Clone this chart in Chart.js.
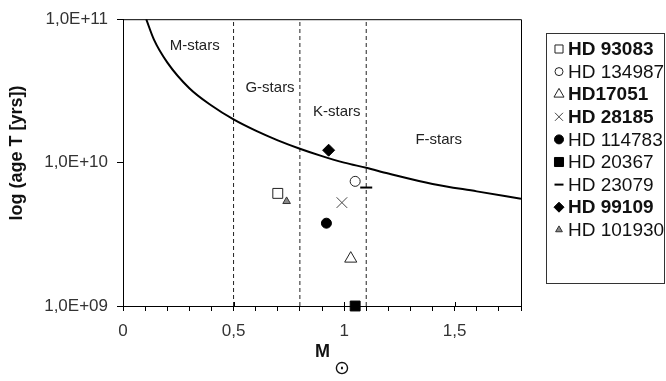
<!DOCTYPE html>
<html>
<head>
<meta charset="utf-8">
<script src="https://cdn.jsdelivr.net/npm/chart.js"></script>
<style>
  body { margin: 0; background: #fff; }
  #chart { display: block; }
</style>
</head>
<body>
<canvas id="chart" width="666" height="381"></canvas>
<script>
// Stars: mass (solar masses) vs age (years)
const starNames = ["HD 93083", "HD 134987", "HD17051", "HD 28185", "HD 114783", "HD 20367", "HD 23079", "HD 99109", "HD 101930"];
const starMass = [0.70, 1.05, 1.03, 0.99, 0.92, 1.05, 1.10, 0.93, 0.74];
const starAge = [6.1e9, 7.4e9, 2.14e9, 5.26e9, 3.78e9, 1.0e9, 6.7e9, 1.22e10, 5.37e9];

// Main sequence lifetime curve
const curveMass = [0.105, 0.14, 0.2, 0.3, 0.4, 0.5, 0.6, 0.7, 0.8, 0.9, 1.0, 1.1, 1.2, 1.4, 1.6, 1.8];
const curveAge = [1.0e11, 7.2e10, 5.0e10, 3.3e10, 2.5e10, 2.0e10, 1.67e10, 1.43e10, 1.25e10, 1.11e10, 1.0e10, 9.2e9, 8.4e9, 7.1e9, 6.3e9, 5.6e9];

// Spectral class borders and labels
const dividerMass = [0.5, 0.8, 1.1];
const regionNames = ["M-stars", "G-stars", "K-stars", "F-stars"];
const regionMass = [0.324, 0.665, 0.967, 1.428];
const regionAge = [6.5e10, 3.3e10, 2.27e10, 1.43e10];

const yTickValues = [1e9, 1e10, 1e11];

// marker look per star (same order as starNames)
const starStyles = [
  { pointStyle: "rect", radius: 7, fill: "#fff", stroke: "#222", width: 1, legendRadius: 5.7, bold: true },
  { pointStyle: "circle", radius: 5, fill: "#fff", stroke: "#222", width: 1, legendRadius: 4, bold: false },
  { pointStyle: "triangle", radius: 7, fill: "#fff", stroke: "#222", width: 1, legendRadius: 5.8, bold: true },
  { pointStyle: "crossRot", radius: 7.5, fill: "#444", stroke: "#444", width: 1, legendRadius: 5.7, bold: true },
  { pointStyle: "circle", radius: 5, fill: "#000", stroke: "#000", width: 1, legendRadius: 4.5, bold: false },
  { pointStyle: "rect", radius: 7, fill: "#000", stroke: "#000", width: 1, legendRadius: 6.4, bold: false },
  { pointStyle: "line", radius: 6, fill: "#000", stroke: "#000", width: 2, legendRadius: 4.5, bold: false },
  { pointStyle: "rectRot", radius: 6, fill: "#000", stroke: "#000", width: 1, legendRadius: 5, bold: true },
  { pointStyle: "triangle", radius: 4.4, fill: "#888", stroke: "#333", width: 1, legendRadius: 3.9, bold: false },
];

const FONT = "'Liberation Sans', Arial, sans-serif";

const starDatasets = starNames.map((name, i) => ({
  type: "scatter",
  label: name,
  data: [{ x: starMass[i], y: starAge[i] }],
  pointStyle: starStyles[i].pointStyle,
  pointRadius: starStyles[i].radius,
  pointBackgroundColor: starStyles[i].fill,
  pointBorderColor: starStyles[i].stroke,
  pointBorderWidth: starStyles[i].width,
  clip: false,
}));

const curveDataset = {
  type: "line",
  label: "curve",
  data: curveMass.map((m, i) => ({ x: m, y: curveAge[i] })),
  borderColor: "#000",
  borderWidth: 2,
  pointRadius: 0,
  cubicInterpolationMode: "monotone",
  fill: false,
};

const dividerDatasets = dividerMass.map((m) => ({
  type: "line",
  label: "divider",
  data: [{ x: m, y: 1e9 }, { x: m, y: 1e11 }],
  borderColor: "#222",
  borderWidth: 1,
  borderDash: [4, 3],
  pointRadius: 0,
  fill: false,
}));

// frame, region labels, axis titles, legend
const decorPlugin = {
  id: "decor",
  afterDraw(chart) {
    const ctx = chart.ctx;
    const area = chart.chartArea;
    const xs = chart.scales.x;
    const ys = chart.scales.y;
    ctx.save();

    // plot frame (top and right sides)
    ctx.strokeStyle = "#000";
    ctx.lineWidth = 1;
    ctx.beginPath();
    ctx.moveTo(area.left, area.top + 0.5);
    ctx.lineTo(area.right + 0.5, area.top + 0.5);
    ctx.lineTo(area.right + 0.5, area.bottom);
    ctx.stroke();

    // major x ticks also poke up into the plot
    ctx.beginPath();
    [0.5, 1, 1.5].forEach((v) => {
      const px = Math.round(xs.getPixelForValue(v)) + 0.5;
      ctx.moveTo(px, area.bottom - 4);
      ctx.lineTo(px, area.bottom);
    });
    ctx.stroke();

    // region labels
    ctx.fillStyle = "#222";
    ctx.font = "15px " + FONT;
    ctx.textAlign = "center";
    ctx.textBaseline = "middle";
    regionNames.forEach((name, i) => {
      ctx.fillText(name, xs.getPixelForValue(regionMass[i]), ys.getPixelForValue(regionAge[i]));
    });

    // y title
    ctx.save();
    ctx.translate(17, 153);
    ctx.rotate(-Math.PI / 2);
    ctx.font = "bold 18px " + FONT;
    ctx.fillStyle = "#111";
    ctx.fillText("log (age T [yrs])", 0, 0);
    ctx.restore();

    // x title: M with sun symbol
    ctx.fillStyle = "#111";
    ctx.font = "bold 18px " + FONT;
    ctx.textBaseline = "alphabetic";
    ctx.fillText("M", 322.5, 357);
    ctx.font = "19px 'DejaVu Sans'";
    ctx.textBaseline = "middle";
    ctx.fillText("\u2299", 342, 369);

    // legend
    ctx.strokeStyle = "#333";
    ctx.lineWidth = 1;
    ctx.strokeRect(546.5, 33.5, 118, 250);
    ctx.textAlign = "left";
    ctx.textBaseline = "middle";
    starNames.forEach((name, i) => {
      const st = starStyles[i];
      const y = 49 + 22.6 * i;
      ctx.fillStyle = st.fill;
      ctx.strokeStyle = st.stroke;
      ctx.lineWidth = st.width;
      Chart.helpers.drawPoint(ctx, { pointStyle: st.pointStyle, radius: st.legendRadius, rotation: 0, borderWidth: st.width }, 559, y);
      ctx.fillStyle = "#111";
      ctx.font = (st.bold ? "bold " : "") + "19px " + FONT;
      ctx.fillText(name, 568, y + 1);
    });

    ctx.restore();
  },
};

new Chart(document.getElementById("chart"), {
  data: { datasets: [...starDatasets, curveDataset, ...dividerDatasets] },
  options: {
    responsive: false,
    animation: false,
    devicePixelRatio: 1,
    layout: { padding: { top: 12, right: 145, left: 0, bottom: 0 } },
    plugins: { legend: { display: false }, tooltip: { enabled: false } },
    scales: {
      x: {
        type: "linear",
        min: 0,
        max: 1.8,
        afterFit: (scale) => { scale.height = 75; },
        border: { color: "#000", width: 1 },
        grid: { drawOnChartArea: false, drawTicks: true, tickLength: 5, color: "#000" },
        ticks: {
          stepSize: 0.1,
          autoSkip: false,
          maxRotation: 0,
          padding: 10,
          color: "#333",
          font: { family: FONT, size: 17 },
          callback: (v) => (Math.round(v * 10) % 5 === 0 ? String(Math.round(v * 10) / 10).replace(".", ",") : ""),
        },
      },
      y: {
        type: "logarithmic",
        min: 1e9,
        max: 1e11,
        afterFit: (scale) => { scale.width = 123; },
        afterBuildTicks: (scale) => { scale.ticks = yTickValues.map((v) => ({ value: v })); },
        border: { color: "#000", width: 1 },
        grid: { drawOnChartArea: false, drawTicks: true, tickLength: 6, color: "#000" },
        ticks: {
          padding: 9,
          color: "#333",
          font: { family: FONT, size: 17 },
          callback: (v) => {
            const e = Math.round(Math.log10(v));
            return "1,0E+" + (e < 10 ? "0" + e : e);
          },
        },
      },
    },
  },
  plugins: [decorPlugin],
});
</script>
</body>
</html>
